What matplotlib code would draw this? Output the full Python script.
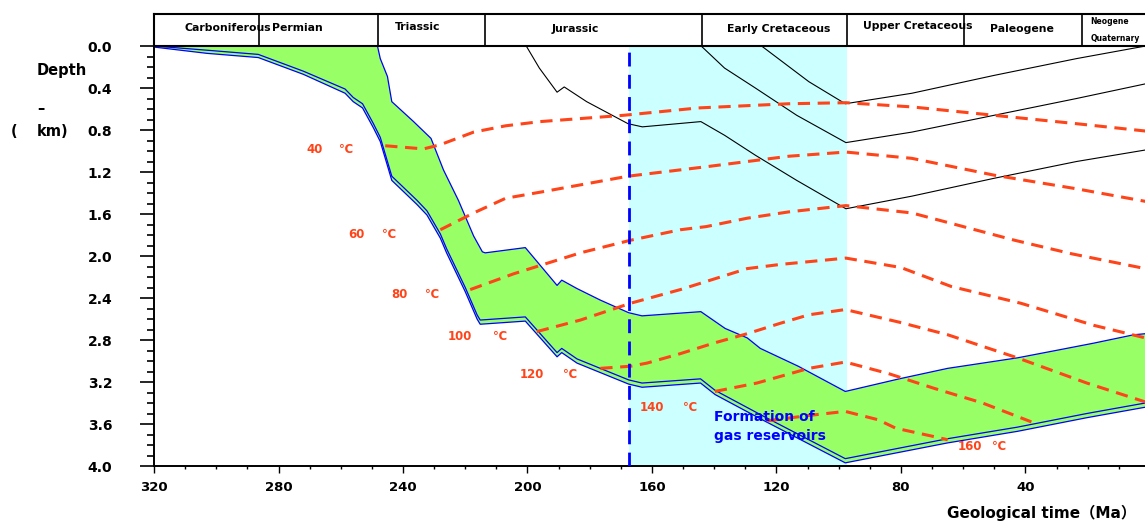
import matplotlib.pyplot as plt
import numpy as np
from matplotlib.ticker import MultipleLocator

plt.rcParams['font.family'] = ['DejaVu Sans', 'Noto Sans CJK SC']
plt.rcParams['font.weight'] = 'bold'

# top of the buried unit (age Ma, depth km)
top_age = [320, 248.2, 247.3, 245, 243.6, 236.6, 231, 227, 222.2, 217.3, 214.5, 213.6,
           200.7, 190.5, 189, 184.1, 176.6, 167.5, 163.2, 144.3, 136.5, 129.4, 125.2,
           113, 97.9, 80.6, 65, 42.6, 30.3, 18.1, 5.2, 1.5]
top_depth = [0.0, 0.0, 0.12, 0.29, 0.53, 0.72, 0.88, 1.18, 1.47, 1.81, 1.96, 1.97,
             1.92, 2.28, 2.23, 2.31, 2.42, 2.54, 2.57, 2.53, 2.69, 2.78, 2.88,
             3.05, 3.29, 3.17, 3.07, 2.97, 2.90, 2.83, 2.75, 2.74]

# base of the unit (double line)
base_age = [320, 303, 286.5, 272, 258.6, 256, 253, 249.5, 247.3, 243.6, 235.5, 232.3,
            228, 226, 220, 216.2, 215.2, 200.7, 190.5, 189, 184.1, 167.5, 163.2, 144.4,
            139.7, 125.2, 97.9, 80.6, 65, 42.6, 20.3, 1.5]
base_depth = [0.0, 0.04, 0.08, 0.24, 0.41, 0.49, 0.55, 0.74, 0.87, 1.24, 1.47, 1.57,
              1.79, 1.93, 2.30, 2.56, 2.61, 2.58, 2.92, 2.88, 2.98, 3.18, 3.21, 3.17,
              3.28, 3.51, 3.93, 3.83, 3.74, 3.63, 3.50, 3.40]
base2_depth = [0.01, 0.07, 0.11, 0.27, 0.45, 0.53, 0.59, 0.78, 0.91, 1.28, 1.51, 1.61,
               1.83, 1.97, 2.34, 2.60, 2.65, 2.62, 2.96, 2.92, 3.02, 3.22, 3.25, 3.21,
               3.32, 3.55, 3.97, 3.87, 3.78, 3.67, 3.54, 3.44]

# other horizons (black lines)
hz_a_age = [200.2, 196.2, 190.5, 188.2, 181, 167.7, 163.1, 144.3, 136.7, 126.8, 113.5, 97.7, 76.5, 50.1, 23.6, 1.4]
hz_a_depth = [0.01, 0.21, 0.44, 0.39, 0.53, 0.74, 0.77, 0.72, 0.85, 1.04, 1.28, 1.55, 1.43, 1.26, 1.10, 0.99]
hz_b_age = [144.2, 136.7, 126.8, 113.5, 97.7, 76.5, 50.1, 23.6, 1.4]
hz_b_depth = [0.0, 0.21, 0.40, 0.66, 0.92, 0.82, 0.66, 0.50, 0.36]
hz_c_age = [124.8, 109.6, 97.9, 76.5, 50.1, 23.6, 1.4]
hz_c_depth = [0.0, 0.34, 0.55, 0.45, 0.28, 0.12, 0.0]

# isotherms
iso_40_age = [245.7, 233.4, 228, 217.3, 207, 195.9, 169.1, 145.2, 116.1, 97.7, 76.5, 50.1, 23.6, 1.4]
iso_40_depth = [0.95, 0.98, 0.94, 0.82, 0.76, 0.72, 0.66, 0.59, 0.55, 0.54, 0.58, 0.66, 0.74, 0.81]
iso_60_age = [228, 217.3, 207, 195.5, 167.7, 142.6, 116.1, 97.7, 76.5, 50.1, 23.6, 1.4]
iso_60_depth = [1.75, 1.59, 1.45, 1.39, 1.24, 1.15, 1.05, 1.01, 1.07, 1.23, 1.36, 1.48]
iso_80_age = [218.4, 204.5, 195.9, 183, 166.9, 150.9, 142.6, 129.4, 116.1, 97.7, 76.5, 43.5, 25, 1.5]
iso_80_depth = [2.32, 2.17, 2.09, 1.97, 1.85, 1.75, 1.72, 1.64, 1.58, 1.52, 1.59, 1.85, 1.98, 2.12]
iso_100_age = [197, 183, 166.9, 150.9, 129.4, 118.7, 97.7, 80, 63.9, 41.5, 18.1, 1.5]
iso_100_depth = [2.72, 2.61, 2.45, 2.32, 2.12, 2.08, 2.02, 2.11, 2.29, 2.45, 2.66, 2.78]
iso_120_age = [176.6, 166.9, 161.6, 150.9, 140.2, 129.4, 118.7, 109.6, 97.9, 80.6, 65, 42.6, 20.3, 1.5]
iso_120_depth = [3.07, 3.05, 3.02, 2.93, 2.83, 2.74, 2.64, 2.56, 2.51, 2.63, 2.75, 2.97, 3.21, 3.39]
iso_140_age = [139.8, 126.3, 109.6, 97.9, 84, 69.4, 53.8, 38.1]
iso_140_depth = [3.29, 3.21, 3.07, 3.01, 3.12, 3.26, 3.40, 3.58]
iso_160_age = [123, 110, 97.9, 87.3, 81.7, 69.4, 65]
iso_160_depth = [3.57, 3.52, 3.48, 3.56, 3.64, 3.72, 3.75]

iso_labels = ['40', '60', '80', '100', '120', '140', '160']
iso_label_pos = [(268.5, 0.99), (255, 1.80), (241, 2.37), (221.6, 2.77),
                 (198.6, 3.13), (160.1, 3.44), (57.7, 3.81)]
iso_unit_pos = [(258.3, 0.99), (244.5, 1.80), (230.8, 2.37), (208.9, 2.77),
                (186.4, 3.13), (147.7, 3.44), (48.5, 3.81)]

# stratigraphic header
period_bounds = [286.4, 248.1, 213.7, 143.9, 97.5, 59.8, 21.7]
period_names = ['Carboniferous', 'Permian', 'Triassic', 'Jurassic', 'Early Cretaceous',
                'Upper Cretaceous', 'Paleogene', 'Neogene', 'Quaternary']
period_x = [296.4, 274, 235.4, 184.6, 119.2, 74.5, 41.1, 13.1, 11.3]
period_y = [0.56, 0.56, 0.60, 0.53, 0.53, 0.63, 0.53, 0.78, 0.22]

reservoir_start = 167.3
reservoir_end = 97.5

iso_color = '#ff4419'

fig = plt.figure(figsize=(11.45, 5.25), dpi=100)
ax = fig.add_axes([154 / 1145, 59 / 525, 996 / 1145, 420 / 525])
axh = fig.add_axes([154 / 1145, 479 / 525, 996 / 1145, 32 / 525])

ax.axvspan(reservoir_start, reservoir_end, color='#ccffff', lw=0, zorder=0)

poly_age = top_age + base_age[::-1]
poly_depth = top_depth + base2_depth[::-1]
ax.fill(poly_age, poly_depth, color='#99ff66', lw=0, zorder=1)
ax.plot(top_age, top_depth, color='#0000ff', lw=0.9, zorder=2)
ax.plot(base_age, base_depth, color='#0000ff', lw=0.9, zorder=2)
ax.plot(base_age, base2_depth, color='#0000ff', lw=0.9, zorder=2)

for a, d in [(hz_a_age, hz_a_depth), (hz_b_age, hz_b_depth), (hz_c_age, hz_c_depth)]:
    ax.plot(a, d, color='black', lw=0.8, zorder=2)

isos = [(iso_40_age, iso_40_depth), (iso_60_age, iso_60_depth), (iso_80_age, iso_80_depth),
        (iso_100_age, iso_100_depth), (iso_120_age, iso_120_depth),
        (iso_140_age, iso_140_depth), (iso_160_age, iso_160_depth)]
for a, d in isos:
    ax.plot(a, d, color=iso_color, lw=2.2, ls=(0, (4, 2.5)), zorder=3)

for lab, p, q in zip(iso_labels, iso_label_pos, iso_unit_pos):
    ax.text(p[0], p[1], lab, color=iso_color, fontsize=8.5, ha='center', va='center', zorder=5)
    ax.text(q[0], q[1], '℃', color=iso_color, fontsize=8.5, ha='center', va='center', zorder=5)

ax.axvline(reservoir_start, color='#0000ff', lw=2, ls=(0, (5, 3)), zorder=4)
ax.text(140, 3.53, 'Formation of', color='#0000ff', fontsize=10, ha='left', va='center', zorder=5)
ax.text(140, 3.71, 'gas reservoirs', color='#0000ff', fontsize=10, ha='left', va='center', zorder=5)

ax.set_xlim(320, 0)
ax.set_ylim(4.0, 0.0)
ax.set_yticks(np.arange(0, 4.01, 0.4))
ax.set_yticklabels([f'{v:.1f}' for v in np.arange(0, 4.01, 0.4)])
ax.yaxis.set_minor_locator(MultipleLocator(0.1))
ax.set_xticks(np.arange(320, 0, -40))
ax.xaxis.set_minor_locator(MultipleLocator(10))
ax.tick_params(axis='y', which='major', length=10, width=1.2, pad=20, labelsize=10)
ax.tick_params(axis='y', which='minor', length=5, width=1.2)
ax.tick_params(axis='x', which='major', length=5, width=1.0, pad=6, labelsize=9.5)
ax.tick_params(axis='x', which='minor', length=2.5, width=1.0)
for s in ['left', 'bottom']:
    ax.spines[s].set_linewidth(1.4)
ax.spines['top'].set_visible(False)
ax.spines['right'].set_visible(False)

axh.set_xlim(320, 0)
axh.set_ylim(0, 1)
axh.set_xticks([])
axh.set_yticks([])
for s in axh.spines.values():
    s.set_linewidth(1.5)
for b in period_bounds:
    axh.axvline(b, color='black', lw=1.2)
for name, x, y in zip(period_names, period_x, period_y):
    fs = 5.5 if name in ('Neogene', 'Quaternary') else 7.8
    axh.text(x, y, name, fontsize=fs, ha='center', va='center')

fig.text(37 / 1145, 1 - 71 / 525, 'Depth', fontsize=10.5, ha='left', va='center')
fig.text(37 / 1145, 1 - 108 / 525, '–', fontsize=10.5, ha='left', va='center')
fig.text(14 / 1145, 1 - 132 / 525, '(', fontsize=10.5, ha='center', va='center')
fig.text(37 / 1145, 1 - 132 / 525, 'km)', fontsize=10.5, ha='left', va='center')
fig.text(947 / 1145, 1 - 513 / 525, 'Geological time（Ma）', fontsize=11, ha='left', va='center')

fig.savefig('out.png', dpi=100)
